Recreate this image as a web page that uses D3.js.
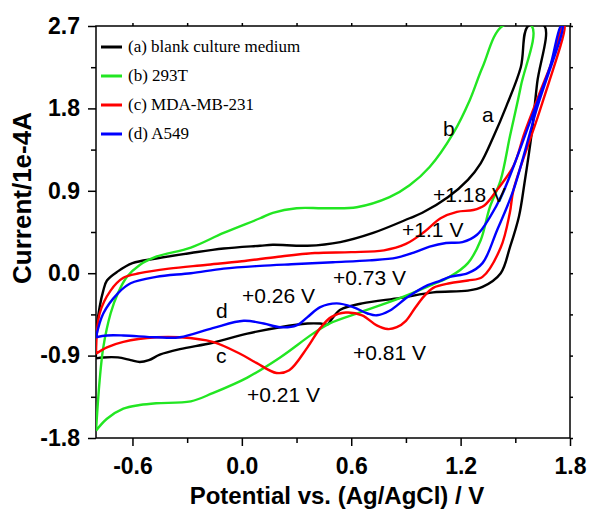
<!DOCTYPE html>
<html>
<head>
<meta charset="utf-8">
<script src="https://cdn.jsdelivr.net/npm/d3@7"></script>
<style>
  body { margin: 0; background: #fff; }
  svg { display: block; }
</style>
</head>
<body>
<div id="chart"></div>
<script>
// potential (V) vs current (1e-4 A), each loop traced round from the lower-left corner
const curveA = [[-0.80,-0.93],[-0.80,-0.68],[-0.78,-0.37],[-0.76,-0.19],[-0.74,-0.08],[-0.68,0.02],[-0.60,0.11],
  [-0.47,0.16],[-0.28,0.22],[-0.10,0.27],[0.10,0.30],[0.17,0.31],[0.36,0.30],[0.54,0.34],[0.72,0.44],[0.92,0.60],
  [0.99,0.66],[1.13,0.83],[1.24,1.02],[1.31,1.20],[1.38,1.49],[1.45,1.82],[1.53,2.25],[1.57,2.70],
  [1.66,2.70],[1.62,2.08],[1.59,1.53],[1.55,0.98],[1.52,0.62],[1.47,0.28],[1.42,0.00],[1.32,-0.15],[1.24,-0.19],
  [1.05,-0.21],[0.87,-0.27],[0.66,-0.33],[0.54,-0.40],[0.49,-0.51],[0.47,-0.56],[0.43,-0.55],[0.36,-0.55],
  [0.21,-0.59],[0.03,-0.66],[-0.16,-0.76],[-0.34,-0.83],[-0.45,-0.89],[-0.51,-0.95],[-0.56,-0.97],[-0.61,-0.95],
  [-0.68,-0.92],[-0.76,-0.92],[-0.80,-0.93]];
const curveB = [[-0.80,-1.72],[-0.78,-1.17],[-0.76,-0.81],[-0.72,-0.44],[-0.68,-0.22],[-0.63,-0.04],[-0.56,0.09],
  [-0.47,0.18],[-0.28,0.28],[-0.10,0.44],[0.10,0.60],[0.17,0.66],[0.30,0.71],[0.45,0.71],[0.63,0.72],[0.81,0.83],
  [0.92,0.96],[1.03,1.16],[1.16,1.53],[1.25,1.89],[1.32,2.25],[1.43,2.70],
  [1.59,2.70],[1.53,2.04],[1.47,1.49],[1.42,1.02],[1.36,0.72],[1.31,0.36],[1.24,0.11],[1.14,-0.04],[1.05,-0.12],
  [0.87,-0.27],[0.66,-0.42],[0.48,-0.55],[0.39,-0.66],[0.21,-0.92],[0.03,-1.14],[-0.16,-1.31],[-0.28,-1.40],
  [-0.47,-1.42],[-0.56,-1.44],[-0.65,-1.48],[-0.74,-1.59],[-0.80,-1.72]];
const curveC = [[-0.80,-0.88],[-0.78,-0.44],[-0.72,-0.19],[-0.65,-0.05],[-0.56,0.00],[-0.40,0.05],[-0.20,0.09],
  [0.00,0.13],[0.20,0.18],[0.40,0.22],[0.60,0.23],[0.78,0.25],[0.90,0.32],[1.00,0.45],[1.09,0.60],[1.18,0.67],
  [1.27,0.69],[1.33,0.74],[1.40,0.91],[1.49,1.17],[1.55,1.53],[1.63,1.95],[1.71,2.36],[1.76,2.70],
  [1.77,2.70],[1.64,1.81],[1.49,0.91],[1.47,0.66],[1.42,0.28],[1.32,-0.04],[1.24,-0.08],[1.14,-0.11],[1.05,-0.16],
  [1.00,-0.25],[0.95,-0.38],[0.90,-0.52],[0.85,-0.59],[0.80,-0.61],[0.74,-0.57],[0.66,-0.46],[0.57,-0.43],
  [0.49,-0.48],[0.43,-0.60],[0.36,-0.81],[0.26,-1.06],[0.19,-1.09],[0.08,-0.98],[-0.01,-0.88],[-0.16,-0.75],
  [-0.34,-0.70],[-0.47,-0.70],[-0.65,-0.75],[-0.74,-0.81],[-0.80,-0.88]];
const curveD = [[-0.80,-0.70],[-0.76,-0.44],[-0.68,-0.22],[-0.61,-0.11],[-0.47,-0.04],[-0.28,0.00],[-0.10,0.05],
  [0.10,0.08],[0.30,0.10],[0.50,0.12],[0.70,0.14],[0.85,0.17],[0.95,0.23],[1.03,0.29],[1.12,0.33],[1.21,0.34],
  [1.29,0.42],[1.36,0.61],[1.43,0.87],[1.51,1.27],[1.60,1.76],[1.69,2.25],[1.75,2.70],
  [1.76,2.70],[1.62,1.81],[1.49,0.91],[1.40,0.47],[1.32,0.11],[1.24,0.00],[1.14,-0.04],[1.09,-0.08],[1.02,-0.13],
  [0.91,-0.26],[0.81,-0.41],[0.74,-0.46],[0.69,-0.44],[0.61,-0.37],[0.52,-0.33],[0.43,-0.37],[0.36,-0.48],
  [0.30,-0.57],[0.21,-0.59],[0.12,-0.55],[0.01,-0.52],[-0.16,-0.60],[-0.34,-0.70],[-0.47,-0.70],[-0.65,-0.68],
  [-0.74,-0.68],[-0.80,-0.70]];

const seriesNames = ["(a) blank culture medium", "(b) 293T", "(c) MDA-MB-231", "(d) A549"];
const potentialTicks = [-0.6, 0.0, 0.6, 1.2, 1.8];
const potentialMinor = [-0.3, 0.3, 0.9, 1.5];
const currentTicks = [-1.8, -0.9, 0.0, 0.9, 1.8, 2.7];
const currentMinor = [-1.35, -0.45, 0.45, 1.35, 2.25];
const peakLabels = ["+1.18 V", "+1.1 V", "+0.73 V", "+0.26 V", "+0.21 V", "+0.81 V"];
const curveLetters = ["a", "b", "c", "d"];

const w = 590, h = 510;
const m = {left: 96, top: 26, right: 20, bottom: 72};
const colors = ["#000000", "#22e622", "#ff0000", "#0000ff"];
const sans = "'Liberation Sans', Arial, sans-serif";

const xScale = d3.scaleLinear().domain([-0.8, 1.8]).range([m.left, w - m.right]);
const yScale = d3.scaleLinear().domain([-1.8, 2.7]).range([h - m.bottom, m.top]);

const svg = d3.select("#chart").append("svg").attr("width", w).attr("height", h);

svg.append("clipPath").attr("id", "plot")
   .append("rect")
   .attr("x", m.left).attr("y", m.top)
   .attr("width", w - m.left - m.right).attr("height", h - m.top - m.bottom);

const fmt = d => d.toFixed(1);

// minor ticks
svg.append("g").attr("transform", "translate(0," + (h - m.bottom) + ")")
   .call(d3.axisBottom(xScale).tickValues(potentialMinor).tickSize(5).tickSizeOuter(0).tickFormat(""));
svg.append("g").attr("transform", "translate(" + m.left + ",0)")
   .call(d3.axisLeft(yScale).tickValues(currentMinor).tickSize(5).tickSizeOuter(0).tickFormat(""));

const xAxis = svg.append("g").attr("transform", "translate(0," + (h - m.bottom) + ")")
   .call(d3.axisBottom(xScale).tickValues(potentialTicks).tickSize(8).tickSizeOuter(0).tickPadding(12).tickFormat(fmt));
const yAxis = svg.append("g").attr("transform", "translate(" + m.left + ",0)")
   .call(d3.axisLeft(yScale).tickValues(currentTicks).tickSize(8).tickSizeOuter(0).tickPadding(8).tickFormat(fmt));

svg.append("g").attr("transform", "translate(0," + m.top + ")")
   .call(d3.axisTop(xScale).tickValues(potentialTicks.concat(potentialMinor)).tickSize(3).tickSizeOuter(0).tickFormat(""));
svg.append("g").attr("transform", "translate(" + (w - m.right) + ",0)")
   .call(d3.axisRight(yScale).tickValues(currentTicks.concat(currentMinor)).tickSize(3).tickSizeOuter(0).tickFormat(""));

svg.selectAll(".tick line").attr("stroke-width", 1.5);
svg.selectAll(".domain").remove();
[xAxis, yAxis].forEach(a => a.selectAll("text")
   .style("font-family", sans).style("font-size", "23px").style("font-weight", "bold").attr("fill", "#000"));

svg.append("rect")
   .attr("x", m.left).attr("y", m.top)
   .attr("width", w - m.left - m.right).attr("height", h - m.top - m.bottom)
   .attr("fill", "none").attr("stroke", "#000").attr("stroke-width", 1.5);

const line = d3.line()
   .x(d => xScale(d[0]))
   .y(d => yScale(d[1]))
   .curve(d3.curveCatmullRom.alpha(0.5));

[curveA, curveB, curveC, curveD].forEach((c, i) => {
   svg.append("path")
      .attr("d", line(c))
      .attr("clip-path", "url(#plot)")
      .attr("fill", "none")
      .attr("stroke", colors[i])
      .attr("stroke-width", 2.4)
      .attr("stroke-linejoin", "round");
});

// legend
seriesNames.forEach((name, i) => {
   const ly = 47 + i * 29;
   svg.append("line").attr("x1", 101).attr("x2", 122).attr("y1", ly).attr("y2", ly)
      .attr("stroke", colors[i]).attr("stroke-width", 3);
   svg.append("text").attr("x", 128).attr("y", ly + 5)
      .style("font-family", "'Liberation Serif', 'Times New Roman', serif").style("font-size", "17px")
      .text(name);
});

// peak and curve labels
const peakPos = [[1.049, 0.777], [0.879, 0.394], [0.50, -0.131], [0.001, -0.328], [0.028, -1.411], [0.61, -0.952]];
const letterPos = [[1.317, 1.652], [1.103, 1.499], [-0.142, -0.985], [-0.142, -0.492]];
svg.selectAll(".peak").data(peakLabels).enter().append("text")
   .attr("class", "peak")
   .attr("x", (d, i) => xScale(peakPos[i][0]))
   .attr("y", (d, i) => yScale(peakPos[i][1]))
   .style("font-family", sans).style("font-size", "21px")
   .text(d => d);
svg.selectAll(".letter").data(curveLetters).enter().append("text")
   .attr("class", "letter")
   .attr("x", (d, i) => xScale(letterPos[i][0]))
   .attr("y", (d, i) => yScale(letterPos[i][1]))
   .style("font-family", sans).style("font-size", "21px")
   .text(d => d);

// axis titles
svg.append("text")
   .attr("transform", "translate(31,198) rotate(-90)")
   .attr("text-anchor", "middle")
   .style("font-family", sans).style("font-size", "26px").style("font-weight", "bold")
   .text("Current/1e-4A");
svg.append("text")
   .attr("x", 337).attr("y", 504)
   .attr("text-anchor", "middle")
   .style("font-family", sans).style("font-size", "24px").style("font-weight", "bold")
   .text("Potential vs. (Ag/AgCl) / V");
</script>
</body>
</html>
